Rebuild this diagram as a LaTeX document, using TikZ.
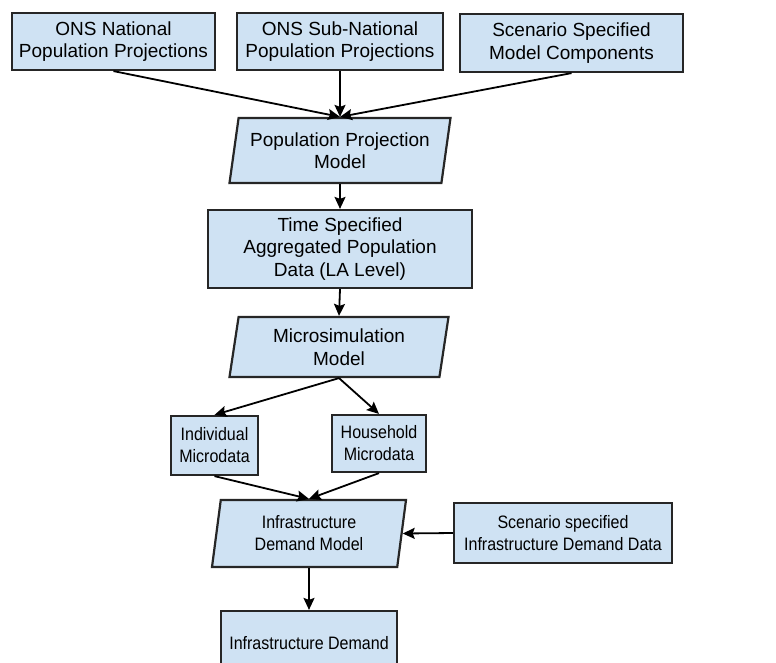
\documentclass[tikz,border=0pt]{standalone}
\usepackage{fontspec}
\setmainfont{Liberation Sans}
\newfontfamily\narrowsans[FakeStretch=0.89]{Liberation Sans}
\usepackage{tikz}
\usetikzlibrary{shapes.geometric,arrows.meta}
\definecolor{boxblue}{HTML}{CFE2F3}
\definecolor{boxline}{HTML}{262626}

\begin{document}
\begin{tikzpicture}[>={Stealth[length=12pt,width=11pt,inset=2pt]}, x=1pt, y=-1pt,
    font=\fontsize{19}{22.5}\selectfont,
    databox/.style={draw=boxline, line width=2.2pt, fill=boxblue, align=center, inner sep=0pt},
    modelbox/.style={databox, trapezium, trapezium left angle=76, trapezium right angle=104,
      trapezium stretches body=true},
    lowtext/.style={font=\narrowsans\fontsize{18}{22}\selectfont},
    flow/.style={->, line width=1.8pt, black}]
  \useasboundingbox (0,0) rectangle (776,662);
  \clip (0,0) rectangle (776,662);
  % input data at the top
  \node[databox, minimum width=203pt, minimum height=57pt] (nat) at (113.5,41.5) {ONS National\\Population Projections};
  \node[databox, minimum width=206pt, minimum height=57pt] (sub) at (340,41.5) {ONS Sub-National\\Population Projections};
  \node[databox, minimum width=223pt, minimum height=58pt] (scm) at (571.5,43) {Scenario Specified\\Model Components};
  % projection model and its output
  \node[modelbox, minimum width=221pt, minimum height=65pt] (ppm) at (340,150.5) {Population Projection\\Model};
  \node[databox, minimum width=264pt, minimum height=78pt] (tsa) at (340,249) {Time Specified\\Aggregated Population\\Data (LA Level)};
  % microsimulation
  \node[modelbox, minimum width=219pt, minimum height=60pt] (msm) at (339,347) {Microsimulation\\Model};
  \node[databox, lowtext, minimum width=87pt, minimum height=59pt] (ind) at (214.5,445.5) {Individual\\Microdata};
  \node[databox, lowtext, minimum width=94pt, minimum height=57pt] (hh) at (379,443.5) {Household\\Microdata};
  % demand model
  \node[modelbox, lowtext, minimum width=194pt, minimum height=67pt] (idm) at (309,533.5) {Infrastructure\\Demand Model};
  \node[databox, lowtext, minimum width=218pt, minimum height=60pt] (sid) at (563,533) {Scenario specified\\Infrastructure Demand Data};
  \node[databox, lowtext, minimum width=176pt, minimum height=64pt] (inf) at (309,643) {Infrastructure Demand};
  % connectors
  \draw[flow] (nat.south) -- (ppm.north);
  \draw[flow] (sub.south) -- (ppm.north);
  \draw[flow] (scm.south) -- (ppm.north);
  \draw[flow] (ppm.south) -- (tsa.north);
  \draw[flow] (tsa.south) -- (msm.north);
  \draw[flow] (msm.south) -- (ind.north);
  \draw[flow] (msm.south) -- (hh.north);
  \draw[flow] (ind.south) -- (idm.north);
  \draw[flow] (hh.south) -- (idm.north);
  \draw[flow] (sid.west) -- (idm.east);
  \draw[flow] (idm.south) -- (inf.north);
\end{tikzpicture}
\end{document}
